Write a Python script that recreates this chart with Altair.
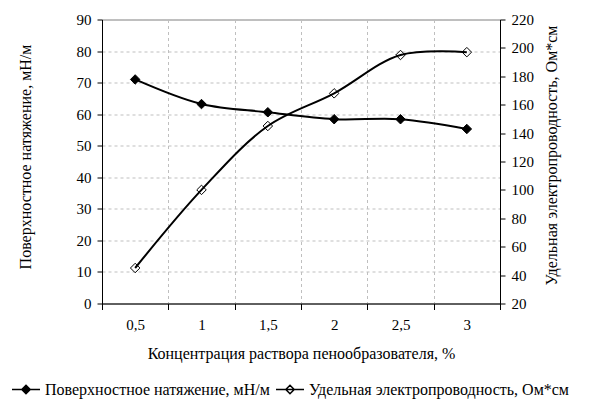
import altair as alt
import pandas as pd

x_labels = ["0,5", "1", "1,5", "2", "2,5", "3"]
tension = [71.0, 63.2, 60.6, 58.4, 58.4, 55.3]
conductivity = [45, 100, 145, 168, 195, 197]
s_tension = "Поверхностное натяжение, мН/м"
s_cond = "Удельная электропроводность, Ом*см"
x_title = "Концентрация раствора пенообразователя, %"

df_t = pd.DataFrame({"x": x_labels, "value": tension, "series": s_tension})
df_c = pd.DataFrame({"x": x_labels, "value": conductivity, "series": s_cond})

FONT = "Liberation Serif"
LFS = 15   # tick labels
TFS = 16   # titles / legend

x_enc = alt.X(
    "x:N",
    sort=x_labels,
    scale=alt.Scale(paddingInner=0, paddingOuter=0),
    axis=alt.Axis(
        title=x_title, labelAngle=0, tickBand="extent", grid=True,
        gridDash=[3, 3], gridColor="#bfbfbf", domainColor="black",
        tickColor="black", tickSize=6, labelPadding=8,
        titleY=50, titleBaseline="middle", titleFontWeight="normal",
        labelFont=FONT, titleFont=FONT, labelFontSize=LFS, titleFontSize=16,
        labelColor="black", titleColor="black",
    ),
)

fill_enc = alt.Fill(
    "series:N",
    scale=alt.Scale(domain=[s_tension, s_cond], range=["black", "transparent"]),
    legend=alt.Legend(
        title=None, orient="none", direction="horizontal",
        legendX=-91, legendY=355,
        symbolType="M-1,0H1M0,-0.3L0.3,0L0,0.3L-0.3,0Z",
        symbolSize=784, symbolStrokeColor="black", symbolStrokeWidth=1.5,
        labelFont=FONT, labelFontSize=TFS, labelColor="black",
        labelOffset=4, columnPadding=3, labelLimit=400,
    ),
)

y_left = alt.Y(
    "value:Q",
    scale=alt.Scale(domain=[0, 90]),
    axis=alt.Axis(
        title=s_tension, values=list(range(0, 91, 10)), grid=True,
        gridDash=[3, 3], gridColor="#bfbfbf", domainColor="black",
        tickColor="black", tickSize=5, labelPadding=6,
        titleX=-77, titleY=137, titleAngle=270, titleBaseline="middle",
        titleFontWeight="normal", labelFont=FONT, titleFont=FONT,
        labelFontSize=LFS, titleFontSize=TFS, labelColor="black", titleColor="black",
    ),
)

y_right = alt.Y(
    "value:Q",
    scale=alt.Scale(domain=[20, 220]),
    axis=alt.Axis(
        title=s_cond, orient="right", values=list(range(20, 221, 20)),
        grid=False, domainColor="black", tickColor="black", tickSize=5,
        labelPadding=6, titleX=51.5, titleY=135.5, titleAngle=270,
        titleBaseline="middle", titleFontWeight="normal",
        labelFont=FONT, titleFont=FONT, labelFontSize=LFS, titleFontSize=TFS,
        labelColor="black", titleColor="black",
    ),
)

base_t = alt.Chart(df_t)
line_t = base_t.mark_line(color="black", strokeWidth=2, interpolate="catmull-rom").encode(x=x_enc, y=y_left)
pts_t = base_t.mark_point(shape="diamond", filled=True, stroke="black", strokeWidth=1, size=90, opacity=1).encode(
    x=x_enc, y=y_left, fill=fill_enc
)
left = alt.layer(line_t, pts_t)

base_c = alt.Chart(df_c)
line_c = base_c.mark_line(color="black", strokeWidth=2, interpolate="catmull-rom").encode(x=x_enc, y=y_right)
pts_c = base_c.mark_point(shape="diamond", filled=True, stroke="black", strokeWidth=1, size=90, opacity=1).encode(
    x=x_enc, y=y_right, fill=fill_enc
)
right = alt.layer(line_c, pts_c)

chart = (
    alt.layer(left, right)
    .resolve_scale(y="independent")
    .properties(
        width=398, height=284,
        autosize=alt.AutoSizeParams(type="none"),
        padding={"left": 94, "top": 11.5, "right": 80, "bottom": 100},
    )
    .configure(background="white")
    .configure_view(stroke="#808080", strokeWidth=1)
)

chart.save("out.html", embed_options={"renderer": "svg", "actions": False})
